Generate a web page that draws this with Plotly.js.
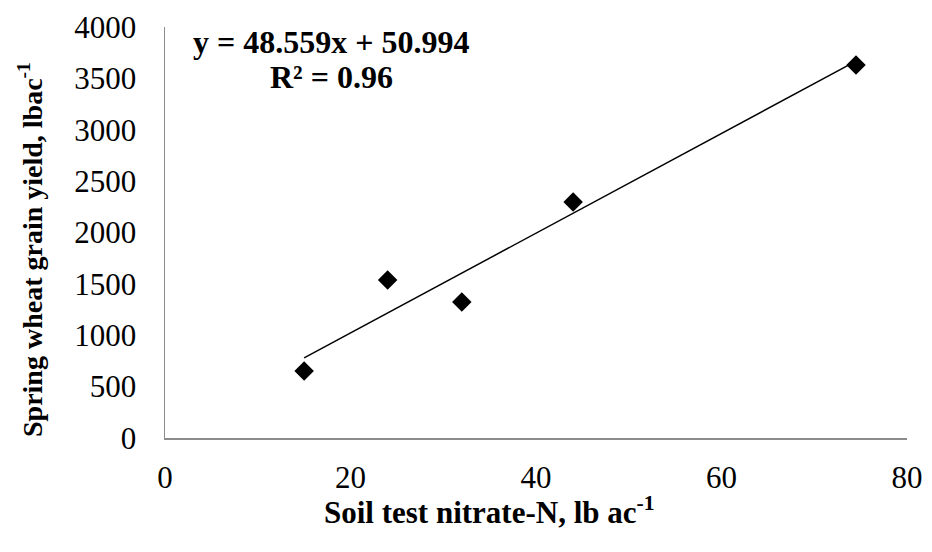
<!DOCTYPE html>
<html><head><meta charset="utf-8">
<script src="https://cdn.plot.ly/plotly-3.0.1.min.js"></script>
<style>html,body{margin:0;padding:0;background:#fff}</style>
</head><body>
<div id="chart" style="width:932px;height:552px"></div>
<script>
var nitrate = [15, 24, 32, 44, 74.5];
var grainYield = [652, 1538, 1324, 2297, 3630];
var trendSlope = 48.559;
var trendIntercept = 50.994;
var equationLines = ["y = 48.559x + 50.994", "R² = 0.96"];
var xTicks = [0, 20, 40, 60, 80];
var yTicks = [0, 500, 1000, 1500, 2000, 2500, 3000, 3500, 4000];
var xTitle = 'Soil test nitrate-N, lb ac<sup>-1</sup>';
var yTitle = 'Spring wheat grain yield, lbac<sup>-1</sup>';

var xMin = Math.min.apply(null, nitrate), xMax = Math.max.apply(null, nitrate);
var trendX = [xMin, xMax];
var trendY = trendX.map(function(v){ return trendSlope * v + trendIntercept; });

var font = "'Liberation Serif', 'Times New Roman', serif";
var data = [
  {x: trendX, y: trendY, mode: 'lines', line: {color: '#000', width: 1.5}, hoverinfo: 'skip'},
  {x: nitrate, y: grainYield, mode: 'markers', marker: {symbol: 'diamond', size: 15, color: '#000'}}
];
var layout = {
  width: 932, height: 552,
  margin: {l: 165, r: 25, t: 27, b: 114},
  showlegend: false,
  paper_bgcolor: '#fff', plot_bgcolor: '#fff',
  font: {family: font, color: '#000', size: 31},
  xaxis: {
    range: [0, 80], tickvals: xTicks, showgrid: false, zeroline: false,
    showline: true, linecolor: '#8c8c8c', linewidth: 1.5,
    ticks: 'outside', ticklen: 11, tickcolor: 'rgba(0,0,0,0)',
    tickfont: {family: font, size: 31}
  },
  yaxis: {
    range: [0, 4000], tickvals: yTicks, showgrid: false, zeroline: false,
    showline: true, linecolor: '#8c8c8c', linewidth: 1.5,
    ticks: 'outside', ticklen: 21, tickcolor: 'rgba(0,0,0,0)',
    tickfont: {family: font, size: 31}
  },
  annotations: [
    {x: 17.9, y: 3853, xref: 'x', yref: 'y', text: '<b>' + equationLines[0] + '</b>', showarrow: false, xanchor: 'center', yanchor: 'middle', font: {family: font, size: 32}},
    {x: 17.9, y: 3513, xref: 'x', yref: 'y', text: '<b>' + equationLines[1] + '</b>', showarrow: false, xanchor: 'center', yanchor: 'middle', font: {family: font, size: 32}},
    {x: 0, y: 0, xref: 'paper', yref: 'paper', text: '<b>' + xTitle + '</b>', showarrow: false, xanchor: 'center', yanchor: 'middle', font: {family: font, size: 31}},
    {x: 0, y: 0, xref: 'paper', yref: 'paper', text: '<b>' + yTitle + '</b>', textangle: -90, showarrow: false, xanchor: 'center', yanchor: 'middle', font: {family: font, size: 28}}
  ]
};
// place the two axis titles: convert pixel positions to paper fractions
var plotW = 932 - 165 - 25, plotH = 552 - 27 - 114;
layout.annotations[2].x = (489 - 165) / plotW; layout.annotations[2].y = (552 - 510 - 114) / plotH;
layout.annotations[3].x = (30 - 165) / plotW; layout.annotations[3].y = (552 - 250 - 114) / plotH;
Plotly.newPlot('chart', data, layout, {displayModeBar: false, staticPlot: true});
</script>
</body></html>
